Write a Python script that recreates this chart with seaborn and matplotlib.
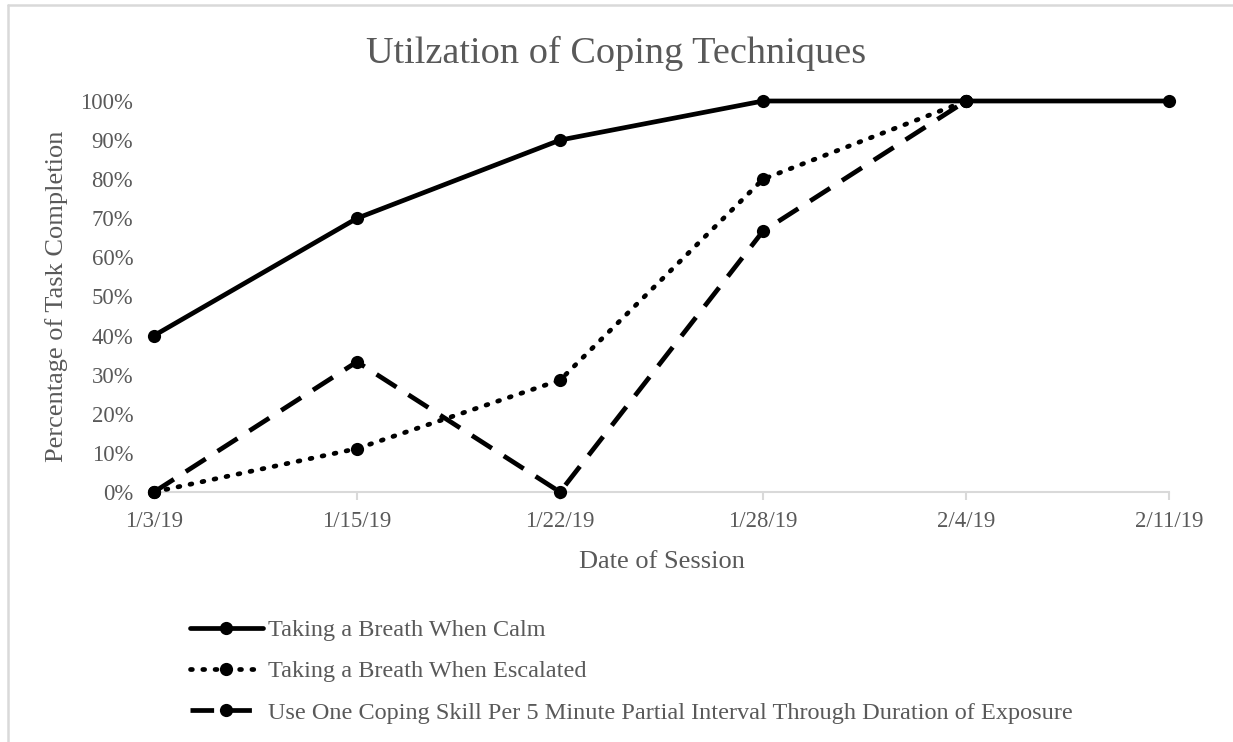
import numpy as np
import pandas as pd
import matplotlib
matplotlib.use("Agg")
import matplotlib.pyplot as plt
from matplotlib.lines import Line2D
import seaborn as sns

# ---- data ----
dates = ["1/3/19", "1/15/19", "1/22/19", "1/28/19", "2/4/19", "2/11/19"]
calm = [40, 70, 90, 100, 100, 100]
escalated = [0, 11.1, 28.6, 80, 100, np.nan]
coping = [0, 33.3, 0, 66.7, 100, np.nan]
series_names = [
    "Taking a Breath When Calm",
    "Taking a Breath When Escalated",
    "Use One Coping Skill Per 5 Minute Partial Interval Through Duration of Exposure",
]
y_ticks = [0, 10, 20, 30, 40, 50, 60, 70, 80, 90, 100]
y_ticklabels = [f"{v}%" for v in y_ticks]
title = "Utilzation of Coping Techniques"
xlabel = "Date of Session"
ylabel = "Percentage of Task Completion"

sns.set_theme(style="white")
plt.rcParams["font.family"] = ["Liberation Serif", "DejaVu Serif"]
TXT = "#595959"
GRID = "#d9d9d9"

W, H = 1233, 742
fig = plt.figure(figsize=(W / 100, H / 100), dpi=100)
ax = fig.add_axes([154 / W, 1 - 492 / H, (1169 - 154) / W, (492 - 101) / H])

styles = [
    dict(linestyle="-"),
    dict(linestyle=(0, (0.4, 2.2))),
    dict(linestyle=(0, (5.0, 3.0))),
]
all_vals = [calm, escalated, coping]
for name, vals, st in zip(series_names, all_vals, styles):
    df = pd.DataFrame({"date": dates, "value": vals})
    sns.lineplot(data=df, x="date", y="value", sort=False, ax=ax, color="black",
                 linewidth=3.4, marker="o", markersize=9.5, markeredgewidth=0,
                 label=name, legend=False, **st)

ax.get_lines()[1].set_dash_capstyle("round")

ax.set_ylim(0, 100)
ax.set_xlim(0, len(dates) - 1)
ax.set_yticks(y_ticks)
ax.set_yticklabels(y_ticklabels)
ax.set_xticks(range(len(dates)))
ax.set_xticklabels(dates)

for s in ["top", "right", "left"]:
    ax.spines[s].set_visible(False)
ax.spines["bottom"].set_color(GRID)
ax.spines["bottom"].set_linewidth(1.5)
ax.spines["bottom"].set_zorder(0)
ax.tick_params(axis="y", length=0, pad=15, labelsize=16.4, labelcolor=TXT)
ax.tick_params(axis="x", length=6, width=1.5, color=GRID, direction="out",
               pad=8, labelsize=16.4, labelcolor=TXT, bottom=True)
ax.xaxis.get_major_ticks()[0].tick1line.set_visible(False)
ax.set_xlabel(xlabel, fontsize=19, color=TXT, labelpad=13)
ax.set_ylabel(ylabel, fontsize=19, color=TXT, labelpad=9)
ax.set_facecolor("white")
for ln in ax.get_lines():
    ln.set_clip_on(False)

fig.text(0.5, 1 - 53 / H, title, ha="center", va="center", fontsize=27.5, color=TXT)

handles = ax.get_lines()[:3]
leg = fig.legend(handles, series_names, loc="upper left",
                 bbox_to_anchor=(190 / W, 1 - 619 / H), frameon=False,
                 fontsize=17.5, handlelength=3.0, handletextpad=0.2,
                 labelspacing=0.80, borderaxespad=0, borderpad=0)
for t in leg.get_texts():
    t.set_color(TXT)

# outer chart border (light gray)
fig.add_artist(Line2D([7.5 / W, 7.5 / W], [0, 1 - 4.5 / H], transform=fig.transFigure,
                      color=GRID, linewidth=1.8))
fig.add_artist(Line2D([7.5 / W, 1], [1 - 4.5 / H, 1 - 4.5 / H], transform=fig.transFigure,
                      color=GRID, linewidth=1.8))

fig.savefig("out.png", dpi=100, facecolor="white")
